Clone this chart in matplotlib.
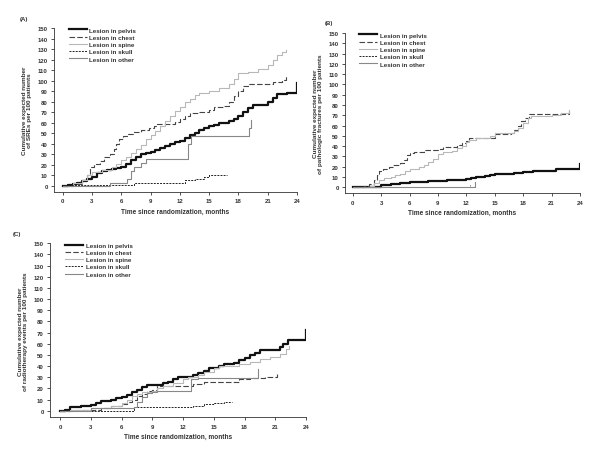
import numpy as np
import matplotlib
matplotlib.use("Agg")
import matplotlib.pyplot as plt

plt.rcParams['font.family'] = ['Liberation Sans', 'DejaVu Sans']

labels = ['Lesion in pelvis', 'Lesion in chest', 'Lesion in spine', 'Lesion in skull', 'Lesion in other']
xticks = [0, 3, 6, 9, 12, 15, 18, 21, 24]
yticks = list(range(0, 151, 10))

# (A) SREs
a_pelvis_t = [0, 0.5, 1, 1.5, 2, 2.5, 3, 3.5, 4, 4.5, 5, 5.5, 6, 6.5, 7, 7.5, 8, 8.5, 9, 9.5, 10, 10.5, 11, 11.5, 12, 12.5, 13, 13.5, 14, 14.5, 15, 15.5, 16, 17, 17.5, 18, 18.5, 19, 19.5, 20.5, 21, 21.5, 22, 23, 24, 24]
a_pelvis_y = [0, 1, 2, 3, 5, 7, 9, 12, 14, 15, 16, 17, 18, 21, 25, 28, 30, 31, 32, 34, 36, 38, 40, 42, 43, 46, 48, 50, 53, 55, 57, 58, 60, 62, 64, 66, 70, 74, 77, 77, 80, 84, 87, 88, 88, 98]
a_chest_t = [0, 1, 2, 2.5, 2.8, 3.2, 3.8, 4.2, 4.8, 5.2, 5.5, 5.8, 6.2, 6.7, 7.2, 8, 8.8, 9.3, 9.7, 11, 11.5, 12, 12.5, 13, 14, 15, 15.5, 16.5, 17, 17.5, 18, 18.5, 19, 21.5, 22.5, 22.9]
a_chest_y = [0, 2, 6, 10, 18, 21, 24, 28, 30, 35, 40, 45, 47, 49, 51, 53, 55, 57, 59, 59, 61, 64, 66, 69, 70, 72, 75, 76, 80, 85, 90, 95, 97, 99, 101, 104]
a_spine_t = [0, 1, 2, 2.5, 3, 4, 5, 5.5, 6, 6.5, 7, 7.5, 8, 8.5, 9, 9.5, 10, 10.5, 11, 11.5, 12, 12.5, 13, 13.5, 14, 15, 16, 17, 17.5, 18, 19, 20, 21, 21.5, 22, 22.5, 22.9]
a_spine_y = [0, 3, 6, 10, 13, 15, 18, 21, 25, 28, 31, 35, 39, 45, 48, 52, 57, 62, 66, 71, 75, 80, 83, 86, 88, 90, 93, 97, 102, 107, 108, 111, 115, 120, 124, 127, 129]
a_skull_t = [0, 1, 7.3, 12.3, 12.5, 13.5, 14.5, 15, 16.8]
a_skull_y = [0, 1, 3, 3, 6, 7, 9, 10, 10]
a_other_t = [0, 4.8, 6, 6.6, 7, 7.3, 8, 8.5, 12.6, 12.8, 13.1, 18.8, 19.1, 19.3]
a_other_y = [0, 3, 3, 7, 14, 18, 22, 26, 26, 40, 47, 47, 55, 63]

# (B) pathologic fractures
b_pelvis_t = [0, 2.8, 3, 4, 5, 6, 8, 10, 11, 12, 12.5, 13, 14, 14.5, 15, 17, 18, 19, 21.5, 24, 24]
b_pelvis_y = [0, 0, 2, 3, 4, 5, 6, 7, 7.5, 8, 9, 10, 11, 12, 13, 14, 15, 16, 18, 18, 23]
b_chest_t = [0, 1.2, 1.7, 2.2, 2.6, 2.8, 3.2, 3.8, 4.3, 5, 5.4, 5.7, 6, 6.5, 7.5, 9, 9.5, 11, 11.5, 12, 12.3, 14, 15, 16.7, 17, 17.5, 17.8, 18.2, 18.6, 22.8, 22.8]
b_chest_y = [0, 1, 3, 7, 12, 16, 18, 20, 22, 24, 27, 31, 33, 34, 36, 37, 39, 41, 43, 45, 48, 48, 52, 53, 56, 60, 64, 67, 71, 71, 74]
b_spine_t = [0, 1.8, 2.2, 2.8, 3.3, 4, 4.5, 5, 5.5, 6, 7, 7.5, 8, 8.5, 9, 9.5, 10.5, 11, 11.5, 12, 12.3, 13, 14.5, 15, 17, 17.5, 18, 18.5, 18.8, 21, 22, 22.8]
b_spine_y = [0, 1, 4, 7, 9, 10, 12, 13, 16, 18, 20, 22, 25, 28, 32, 34, 35, 38, 40, 44, 46, 48, 50, 53, 55, 58, 63, 67, 69, 70, 72, 75]
b_skull_t = [0, 12.4, 12.4]
b_skull_y = [0, 0, 2]
b_other_t = [0, 12.9, 12.9]
b_other_y = [0.5, 0.5, 5]

# (C) radiotherapy events
c_pelvis_t = [0, 0.5, 1, 2, 3, 3.5, 4, 5, 5.5, 6, 6.5, 7, 7.5, 8, 8.5, 10, 10.5, 11, 11.5, 13, 13.5, 14, 14.5, 15.5, 16, 17, 17.5, 18, 18.5, 19, 19.5, 21, 21.5, 21.8, 22.2, 24, 24]
c_pelvis_y = [0, 1, 3, 4, 5, 7, 9, 10, 11, 12, 14, 17, 19, 21, 23, 25, 26, 28, 30, 32, 34, 36, 38, 40, 42, 43, 45, 47, 50, 52, 54, 54, 57, 60, 63, 63, 72]
c_chest_t = [0, 1, 4, 5, 6, 6.5, 7, 7.5, 8, 8.5, 9, 9.5, 12.5, 13, 14, 16.5, 17.5, 18.5, 20, 21.2]
c_chest_y = [0, 1, 2, 4, 6, 8, 10, 13, 15, 18, 19, 22, 22, 24, 26, 26, 28, 29, 30, 33]
c_spine_t = [0, 1, 3, 5, 6, 6.5, 7, 7.5, 8, 9, 9.5, 10, 11, 12, 12.5, 13.5, 14, 15, 15.5, 17, 17.5, 18.5, 19.5, 20.5, 21.5, 22, 22.3]
c_spine_y = [0, 1, 2, 4, 7, 10, 13, 15, 17, 18, 20, 22, 25, 28, 30, 32, 35, 38, 40, 40, 42, 44, 46, 48, 51, 55, 58]
c_skull_t = [0, 7.2, 12.8, 13, 14, 15, 16, 16.8]
c_skull_y = [0, 3, 3, 4, 6, 7, 8, 8]
c_other_t = [0, 3, 6, 7.2, 7.5, 8, 8.5, 9, 9.5, 12.6, 12.8, 13.5, 19.3, 19.3]
c_other_y = [0, 2, 2, 3, 8, 12, 16, 17, 18, 18, 28, 29, 29, 37]

styles = [
    dict(color='#111111', lw=1.6, ls='-'),
    dict(color='#444444', lw=0.8, ls=(0, (5, 2))),
    dict(color='#b8b8b8', lw=0.8, ls='-'),
    dict(color='#222222', lw=0.7, ls=(0, (2, 1.2))),
    dict(color='#888888', lw=0.8, ls='-'),
]

panels = [
    ('(A)', 'Cumulative expected number\nof SREs per 100 patients',
     [(a_pelvis_t, a_pelvis_y), (a_chest_t, a_chest_y), (a_spine_t, a_spine_y), (a_skull_t, a_skull_y), (a_other_t, a_other_y)],
     [54/600, 1 - 193/464, 243/600, 164/464], -0.9, -5.7),
    ('(B)', 'Cumulative expected number\nof pathologic fractures per 100 patients',
     [(b_pelvis_t, b_pelvis_y), (b_chest_t, b_chest_y), (b_spine_t, b_spine_y), (b_skull_t, b_skull_y), (b_other_t, b_other_y)],
     [345/600, 1 - 194.3/464, 235/600, 160.3/464], -0.81, -5.8),
    ('(C)', 'Cumulative expected number\nof radiotherapy events per 100 patients',
     [(c_pelvis_t, c_pelvis_y), (c_chest_t, c_chest_y), (c_spine_t, c_spine_y), (c_skull_t, c_skull_y), (c_other_t, c_other_y)],
     [50/600, 1 - 418.3/464, 256/600, 174/464], -0.98, -5.9),
]
label_pos = [(20/600, 1 - 19/464), (325/600, 1 - 24/464), (13/600, 1 - 235/464)]

fig = plt.figure(figsize=(6, 4.64), dpi=100)
fs = 4.3

for (tag, ylab, series, rect, x0, y0), (lx, ly) in zip(panels, label_pos):
    ax = fig.add_axes(rect)
    for (t, y), st, lab in zip(series, styles, labels):
        ax.step(t, y, where='post', label=lab, **st)
    ax.set_xlim(x0, 24)
    ax.set_ylim(y0, 150)
    ax.set_xticks(xticks)
    ax.set_yticks(yticks)
    ax.tick_params(labelsize=fs, length=2.5, width=0.6, pad=2, color='#333333')
    for lbl in ax.get_xticklabels() + ax.get_yticklabels():
        lbl.set_fontweight('bold')
        lbl.set_color('#333333')
    ax.spines['top'].set_visible(False)
    ax.spines['right'].set_visible(False)
    for s in ['left', 'bottom']:
        ax.spines[s].set_linewidth(0.6)
        ax.spines[s].set_color('#333333')
    ax.set_xlabel('Time since randomization, months', fontsize=fs + 0.4, fontweight='bold', color='#333333', labelpad=3)
    ax.set_ylabel(ylab, fontsize=fs + 0.3, fontweight='bold', color='#333333', labelpad=4, linespacing=1.0)
    leg = ax.legend(loc='upper left', bbox_to_anchor=(0.05, 1.02), frameon=False,
                    prop=dict(size=fs + 0.2, weight='bold'), handlelength=2.9,
                    handletextpad=0.4, labelspacing=0.3, borderaxespad=0)
    for txt in leg.get_texts():
        txt.set_color('#333333')
    fig.text(lx, ly, tag, fontsize=fs, fontweight='bold', color='#333333', va='center')

fig.savefig('out.png', dpi=100)
